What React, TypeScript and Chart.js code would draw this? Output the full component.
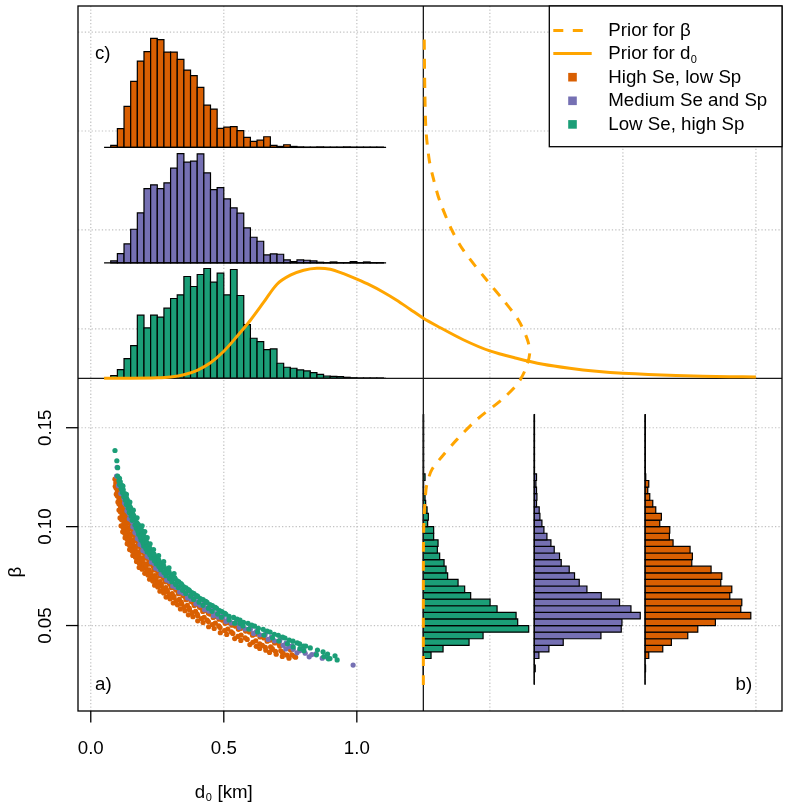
import React, { useEffect, useRef } from "react";
import { Chart, registerables } from "chart.js";

Chart.register(...registerables);

const FONT = '"Liberation Sans", Arial, Helvetica, sans-serif';
const FS = 18.7;
const FS_SUB = 11;

// ---- axes -------------------------------------------------------------
const D0_MIN = -0.048;
const D0_MAX = 2.598;
const BETA_MIN = 0.0068;
const BETA_MAX = 0.3632;
const GRID_D0 = [0, 0.5, 1, 1.5, 2, 2.5];
const GRID_BETA = [0.05, 0.1, 0.15, 0.2, 0.25, 0.3, 0.35];
const D0_TICKS = [0, 0.5, 1];
const D0_TICK_LABELS = ["0.0", "0.5", "1.0"];
const BETA_TICKS = [0.05, 0.1, 0.15];
const BETA_TICK_LABELS = ["0.05", "0.10", "0.15"];
const D0_TITLE_AT = 0.5;
const BETA_TITLE_AT = 0.077;

// panel split lines
const SPLIT_D0 = 1.25;
const SPLIT_BETA = 0.175;

// ---- series -----------------------------------------------------------
const SERIES_NAMES = ["High Se, low Sp", "Medium Se and Sp", "Low Se, high Sp"];
const SERIES_COLORS = ["#D95F02", "#7570B3", "#1B9E77"];
const PRIOR_COLOR = "#FFA500";

// ---- panel c: d0 histograms (relative frequency), bins of 0.025 km ----
const D0_BIN_START = 0.075;
const D0_BIN_WIDTH = 0.025;
const D0_HIST_RANGE = [0.05, 1.11];
const D0_HIST_HIGH = [
  2, 18.7, 41, 66, 86.3, 95.7, 109, 107.7, 95.3, 95.3, 88, 77.3, 71.7, 60, 42.3, 38.3, 19, 20.3,
  20.7, 16.7, 10, 6, 7.3, 10.7, 2, 1, 2.7, 1, 0.5, 0.3, 0.3, 0.5, 0.3, 0.3, 0.3, 0.5, 0.3, 0.3,
  0.3, 0.3, 0.3,
];
const D0_HIST_MEDIUM = [
  2, 9.3, 19, 33.7, 50, 74.3, 78, 74.3, 80, 94.7, 109.3, 100.7, 101.7, 109, 90, 73.3, 75.3, 64,
  55, 49.7, 35, 25.7, 21.7, 8, 9, 8.7, 3, 1.3, 3, 2.7, 2, 0.7, 0.3, 1, 0.3, 0.3, 1.3, 0.3, 1,
  0.3, 0.3,
];
const D0_HIST_LOW = [
  2.7, 8.7, 19.7, 32.7, 63, 50.3, 63, 61, 70, 79.7, 83.3, 101.7, 91.7, 103.7, 109.7, 96, 105,
  83.3, 108.7, 82.7, 53.7, 40, 36.7, 28.7, 29.3, 15, 11, 10, 8.3, 7.3, 5.7, 4, 2.3, 2, 1.7, 1,
  0.5, 0.3, 0.3, 0.3, 0.3,
];
// β positions of the three stacked baselines (high, medium, low)
const D0_HIST_BASES = [0.2917, 0.2333, 0.175];

// ---- panel b: β histograms (relative frequency), bins of 1/300 ----
const BETA_BIN_START = 0.02;
const BETA_BIN_WIDTH = 1 / 300;
const BETA_HIST_RANGE = [0.0204, 0.1567];
const BETA_HIST_HIGH = [
  0, 0, 0.5, 0, 3.7, 17.7, 26.3, 42.7, 52.7, 70.3, 105.7, 95.7, 96.7, 84.7, 86.7, 75.7, 76.7, 66,
  46.7, 47.3, 45, 28, 24.3, 24.7, 14.7, 16.3, 10.7, 7.7, 4.7, 2.7, 3.7, 0.7, 0.3, 0.3, 0.3, 0.3,
  0.3, 0.3, 0.3, 0.3, 0.3,
];
const BETA_HIST_MEDIUM = [
  0, 0, 1, 0, 4.7, 14.7, 29, 66.7, 87, 87.7, 106, 96.7, 85.3, 67, 52.7, 45, 40.3, 35, 27, 25.3,
  20, 16.7, 12.7, 9.7, 7.7, 5.7, 5, 2.3, 2.7, 2.3, 1.7, 2.3, 0.3, 0.3, 0.3, 0.3, 0.3, 0.3, 0.3,
  0.3, 0.3,
];
const BETA_HIST_LOW = [
  0, 0, 0, 0, 7.7, 19.7, 45.7, 59.7, 105.3, 94.3, 92.7, 73.7, 66.7, 47.3, 41.3, 34.7, 24.3, 22.7,
  20.7, 16.3, 14, 14.7, 10.3, 10.3, 4.3, 5, 3.7, 2.3, 1.7, 0.3, 0.3, 1.7, 0.3, 0.3, 0.3, 0.3,
  0.3, 0.3, 0.3, 0.3, 0.3,
];
// d0 positions of the three vertical baselines (high, medium, low)
const BETA_HIST_BASES = [2.0833, 1.6667, 1.25];

// conversion of relative frequency to axis units in each marginal panel
const D0_PANEL_SCALE = 0.000506; // β units per frequency unit
const BETA_PANEL_SCALE = 0.00376; // d0 units per frequency unit

// ---- priors (relative density on the same scales) ----
const D0_PRIOR_X = [
  0.05, 0.15, 0.25, 0.3, 0.35, 0.4, 0.45, 0.5, 0.55, 0.6, 0.65, 0.7, 0.75, 0.8, 0.85, 0.9, 0.95,
  1.0, 1.05, 1.1, 1.15, 1.2, 1.25, 1.3, 1.4, 1.5, 1.6, 1.7, 1.8, 1.9, 2.0, 2.2, 2.4, 2.5,
];
const D0_PRIOR_DENS = [
  0, 0.05, 0.5, 1.3, 3.5, 8, 15.5, 27, 42, 58, 76, 94, 103, 108, 110, 109, 104.5, 99, 93, 86, 78,
  69, 60, 52.5, 38.5, 27.3, 20, 14, 10, 7, 5, 2.8, 1.6, 1.3,
];
const BETA_PRIOR_Y = [
  0.02, 0.06, 0.09, 0.1, 0.105, 0.11, 0.115, 0.12, 0.125, 0.129, 0.1355, 0.1441, 0.1542, 0.1643,
  0.1709, 0.1744, 0.1795, 0.1874, 0.1941, 0.2042, 0.2143, 0.2244, 0.2395, 0.2497, 0.2648, 0.2754,
  0.285, 0.3, 0.32, 0.35,
];
const BETA_PRIOR_DENS = [
  0, 0, 0.1, 0.4, 0.8, 1.3, 2, 3, 5.5, 8.7, 18.7, 33.7, 53.7, 78.7, 92, 97, 102, 106.3, 104.3,
  95.3, 80.3, 63.7, 40.3, 28.7, 16.3, 10.3, 6, 2.7, 1.5, 0.8,
];

// ---- panel a: joint posterior samples [d0, β] ----
const SAMPLES_HIGH: number[][] = [
  [0.091, 0.124], [0.098, 0.12], [0.102, 0.1192], [0.104, 0.116], [0.109, 0.1152],
  [0.111, 0.112], [0.117, 0.1112], [0.122, 0.1127], [0.117, 0.108], [0.124, 0.1072], [0.132, 0.1087],
  [0.123, 0.104], [0.132, 0.1032], [0.141, 0.1047],
  [0.13, 0.1], [0.141, 0.0992], [0.152, 0.1007], [0.16, 0.0996],
  [0.137, 0.097], [0.148, 0.0962], [0.16, 0.0977], [0.168, 0.0966],
  [0.146, 0.094], [0.157, 0.0932], [0.169, 0.0947], [0.177, 0.0936],
  [0.155, 0.091], [0.167, 0.0902], [0.179, 0.0917], [0.187, 0.0906],
  [0.165, 0.088], [0.177, 0.0872], [0.19, 0.0887], [0.199, 0.0876],
  [0.178, 0.085], [0.191, 0.0842], [0.205, 0.0857], [0.215, 0.0846],
  [0.193, 0.082], [0.207, 0.0812], [0.221, 0.0827], [0.232, 0.0816],
  [0.205, 0.079], [0.22, 0.0782], [0.236, 0.0797], [0.247, 0.0786],
  [0.226, 0.076], [0.241, 0.0752], [0.256, 0.0767], [0.268, 0.0756],
  [0.245, 0.073], [0.261, 0.0722], [0.277, 0.0737], [0.289, 0.0726],
  [0.265, 0.07], [0.282, 0.0692], [0.299, 0.0707], [0.312, 0.0696],
  [0.288, 0.067], [0.306, 0.0662], [0.325, 0.0677], [0.339, 0.0666],
  [0.313, 0.064], [0.333, 0.0632], [0.353, 0.0647], [0.367, 0.0636],
  [0.342, 0.061], [0.363, 0.0602], [0.384, 0.0617], [0.4, 0.0606],
  [0.371, 0.058], [0.394, 0.0572], [0.416, 0.0587], [0.433, 0.0576],
  [0.402, 0.055], [0.426, 0.0542], [0.449, 0.0557], [0.467, 0.0546],
  [0.442, 0.052], [0.468, 0.0512], [0.495, 0.0527], [0.515, 0.0516],
  [0.486, 0.049], [0.515, 0.0482], [0.544, 0.0497], [0.565, 0.0486],
  [0.534, 0.046], [0.565, 0.0452], [0.596, 0.0467], [0.62, 0.0456],
  [0.588, 0.043], [0.62, 0.0422], [0.651, 0.0437], [0.675, 0.0426],
  [0.645, 0.04], [0.676, 0.0392], [0.707, 0.0407],
  [0.682, 0.038], [0.714, 0.0372], [0.745, 0.0387],
  [0.722, 0.036], [0.756, 0.0352], [0.77, 0.034],
  [0.094, 0.122], [0.099, 0.1213],
  [0.1, 0.118], [0.106, 0.1173], [0.111, 0.1186],
  [0.106, 0.114], [0.111, 0.1133], [0.116, 0.1146], [0.121, 0.1137],
  [0.112, 0.11], [0.118, 0.1093], [0.124, 0.1106], [0.13, 0.1097],
  [0.118, 0.106], [0.125, 0.1053], [0.132, 0.1066], [0.139, 0.1057],
  [0.124, 0.1015], [0.133, 0.1008], [0.142, 0.1021], [0.151, 0.1012],
  [0.131, 0.0985], [0.14, 0.0978], [0.15, 0.0991], [0.16, 0.0982],
  [0.139, 0.0955], [0.148, 0.0948], [0.159, 0.0961], [0.169, 0.0952],
  [0.148, 0.0925], [0.157, 0.0918], [0.168, 0.0931], [0.178, 0.0922],
  [0.157, 0.0895], [0.167, 0.0888], [0.178, 0.0901], [0.189, 0.0892],
  [0.168, 0.0865], [0.179, 0.0858], [0.191, 0.0871], [0.203, 0.0862],
  [0.182, 0.0835], [0.194, 0.0828], [0.206, 0.0841], [0.218, 0.0832],
  [0.195, 0.0805], [0.208, 0.0798], [0.221, 0.0811], [0.234, 0.0802],
  [0.212, 0.0775], [0.225, 0.0768], [0.239, 0.0781], [0.252, 0.0772],
  [0.232, 0.0745], [0.245, 0.0738], [0.259, 0.0751], [0.273, 0.0742],
  [0.251, 0.0715], [0.265, 0.0708], [0.28, 0.0721], [0.295, 0.0712],
  [0.272, 0.0685], [0.287, 0.0678], [0.303, 0.0691], [0.319, 0.0682],
  [0.296, 0.0655], [0.312, 0.0648], [0.329, 0.0661], [0.346, 0.0652],
  [0.322, 0.0625], [0.34, 0.0618], [0.358, 0.0631], [0.377, 0.0622],
  [0.351, 0.0595], [0.37, 0.0588], [0.389, 0.0601], [0.409, 0.0592],
  [0.381, 0.0565], [0.4, 0.0558], [0.421, 0.0571], [0.442, 0.0562],
  [0.416, 0.0535], [0.437, 0.0528], [0.46, 0.0541], [0.482, 0.0532],
  [0.457, 0.0505], [0.481, 0.0498], [0.505, 0.0511], [0.53, 0.0502],
  [0.503, 0.0475], [0.528, 0.0468], [0.555, 0.0481], [0.582, 0.0472],
  [0.553, 0.0445], [0.58, 0.0438], [0.608, 0.0451], [0.636, 0.0442],
  [0.609, 0.0415], [0.635, 0.0408], [0.663, 0.0421], [0.691, 0.0412],
  [0.656, 0.039], [0.682, 0.0383], [0.71, 0.0396],
  [0.694, 0.037], [0.722, 0.0363], [0.751, 0.0376],
  [0.738, 0.035], [0.766, 0.0343],
  [0.092, 0.1204], [0.095, 0.1195], [0.096, 0.1164], [0.1, 0.1155],
  [0.102, 0.1124], [0.106, 0.1115], [0.106, 0.1084], [0.111, 0.1075],
  [0.11, 0.1044], [0.116, 0.1035], [0.114, 0.1004], [0.122, 0.0995],
  [0.12, 0.0974], [0.128, 0.0965], [0.129, 0.0944], [0.137, 0.0935],
  [0.137, 0.0914], [0.146, 0.0905], [0.146, 0.0884], [0.156, 0.0875],
  [0.158, 0.0854], [0.168, 0.0845], [0.172, 0.0824], [0.182, 0.0815],
  [0.182, 0.0794], [0.193, 0.0785], [0.203, 0.0764], [0.215, 0.0755],
  [0.221, 0.0734], [0.233, 0.0725], [0.24, 0.0704], [0.252, 0.0695],
  [0.26, 0.0674], [0.274, 0.0665], [0.283, 0.0644], [0.298, 0.0635],
  [0.31, 0.0614], [0.326, 0.0605], [0.337, 0.0584], [0.354, 0.0575],
  [0.367, 0.0554], [0.384, 0.0545], [0.402, 0.0524], [0.422, 0.0515],
  [0.443, 0.0494], [0.464, 0.0485], [0.487, 0.0464], [0.511, 0.0455],
  [0.541, 0.0434], [0.564, 0.0425], [0.598, 0.0404], [0.622, 0.0395],
  [0.635, 0.0384], [0.658, 0.0375], [0.672, 0.0364], [0.697, 0.0355],
  [0.72, 0.0344], [0.745, 0.0335],
];
const SAMPLES_MEDIUM: number[][] = [
  [0.099, 0.13], [0.097, 0.1255], [0.104, 0.1207], [0.113, 0.1167], [0.125, 0.1142],
  [0.136, 0.1102], [0.146, 0.1062],
  [0.157, 0.1022], [0.165, 0.1011], [0.167, 0.0992], [0.175, 0.0981],
  [0.175, 0.0962], [0.184, 0.0951], [0.185, 0.0932], [0.194, 0.0921],
  [0.196, 0.0902], [0.205, 0.0891], [0.209, 0.0872], [0.219, 0.0861],
  [0.226, 0.0842], [0.236, 0.0831], [0.243, 0.0812], [0.254, 0.0801],
  [0.261, 0.0782], [0.272, 0.0771], [0.282, 0.0752], [0.294, 0.0741],
  [0.304, 0.0722], [0.317, 0.0711], [0.329, 0.0692], [0.342, 0.0681],
  [0.357, 0.0662], [0.371, 0.0651], [0.388, 0.0632], [0.404, 0.0621],
  [0.422, 0.0602], [0.439, 0.0591], [0.455, 0.0572], [0.472, 0.0561],
  [0.497, 0.0542], [0.516, 0.0531], [0.547, 0.0512], [0.568, 0.0501],
  [0.6, 0.0482], [0.623, 0.0471], [0.655, 0.0452], [0.679, 0.0441],
  [0.71, 0.0422], [0.734, 0.0411], [0.733, 0.0382], [0.757, 0.0397],
  [0.775, 0.0362], [0.8, 0.0377], [0.821, 0.0342], [0.846, 0.0357],
  [0.87, 0.0335], [0.89, 0.0338], [0.986, 0.03],
  [0.127, 0.112], [0.131, 0.1113], [0.136, 0.1126],
  [0.136, 0.108], [0.141, 0.1073], [0.147, 0.1086],
  [0.145, 0.104], [0.152, 0.1033], [0.158, 0.1046],
  [0.158, 0.1], [0.166, 0.0993], [0.174, 0.1006],
  [0.166, 0.097], [0.174, 0.0963], [0.183, 0.0976],
  [0.175, 0.094], [0.183, 0.0933], [0.192, 0.0946],
  [0.185, 0.091], [0.193, 0.0903], [0.202, 0.0916],
  [0.196, 0.088], [0.205, 0.0873], [0.215, 0.0886],
  [0.212, 0.085], [0.222, 0.0843], [0.232, 0.0856],
  [0.228, 0.082], [0.239, 0.0813], [0.249, 0.0826],
  [0.244, 0.079], [0.255, 0.0783], [0.267, 0.0796],
  [0.264, 0.076], [0.275, 0.0753], [0.287, 0.0766],
  [0.285, 0.073], [0.297, 0.0723], [0.309, 0.0736],
  [0.308, 0.07], [0.32, 0.0693], [0.333, 0.0706],
  [0.334, 0.067], [0.348, 0.0663], [0.362, 0.0676],
  [0.363, 0.064], [0.377, 0.0633], [0.392, 0.0646],
  [0.395, 0.061], [0.411, 0.0603], [0.427, 0.0616],
  [0.428, 0.058], [0.444, 0.0573], [0.461, 0.0586],
  [0.461, 0.055], [0.479, 0.0543], [0.496, 0.0556],
  [0.508, 0.052], [0.528, 0.0513], [0.548, 0.0526],
  [0.558, 0.049], [0.58, 0.0483], [0.601, 0.0496],
  [0.612, 0.046], [0.635, 0.0453], [0.659, 0.0466],
  [0.667, 0.043], [0.691, 0.0423], [0.714, 0.0436],
  [0.723, 0.04], [0.746, 0.0393],
  [0.761, 0.038], [0.785, 0.0373],
  [0.806, 0.036], [0.831, 0.0353],
];
const SAMPLES_LOW: number[][] = [
  [0.091, 0.1385], [0.098, 0.1333], [0.101, 0.1298], [0.101, 0.1256],
  [0.106, 0.1232], [0.114, 0.1192], [0.118, 0.1207], [0.124, 0.1152], [0.128, 0.1167],
  [0.134, 0.1112], [0.139, 0.1127], [0.142, 0.1116],
  [0.145, 0.1072], [0.15, 0.1087], [0.154, 0.1076],
  [0.156, 0.1032], [0.163, 0.1047], [0.167, 0.1036],
  [0.171, 0.0992], [0.18, 0.1007], [0.185, 0.0996],
  [0.18, 0.0962], [0.188, 0.0977], [0.194, 0.0966],
  [0.189, 0.0932], [0.197, 0.0947], [0.203, 0.0936],
  [0.199, 0.0902], [0.208, 0.0917], [0.214, 0.0906],
  [0.212, 0.0872], [0.221, 0.0887], [0.227, 0.0876],
  [0.228, 0.0842], [0.238, 0.0857], [0.245, 0.0846],
  [0.246, 0.0812], [0.256, 0.0827], [0.263, 0.0816],
  [0.263, 0.0782], [0.274, 0.0797], [0.282, 0.0786],
  [0.283, 0.0752], [0.294, 0.0767], [0.302, 0.0756],
  [0.305, 0.0722], [0.317, 0.0737], [0.325, 0.0726],
  [0.329, 0.0692], [0.342, 0.0707], [0.35, 0.0696],
  [0.357, 0.0662], [0.371, 0.0677], [0.38, 0.0666],
  [0.387, 0.0632], [0.402, 0.0647], [0.412, 0.0636],
  [0.422, 0.0602], [0.437, 0.0617], [0.448, 0.0606],
  [0.456, 0.0572], [0.473, 0.0587], [0.484, 0.0576],
  [0.491, 0.0542], [0.508, 0.0557], [0.52, 0.0546],
  [0.541, 0.0512], [0.561, 0.0527], [0.574, 0.0516],
  [0.594, 0.0482], [0.616, 0.0497], [0.63, 0.0486],
  [0.651, 0.0452], [0.674, 0.0467], [0.69, 0.0456],
  [0.707, 0.0422], [0.73, 0.0437], [0.746, 0.0426],
  [0.761, 0.0392], [0.785, 0.0407], [0.8, 0.0396],
  [0.801, 0.0372], [0.825, 0.0387],
  [0.848, 0.0352], [0.873, 0.0367], [0.89, 0.0356],
  [0.893, 0.0332], [0.918, 0.0347], [0.899, 0.0333], [0.926, 0.0326],
  [0.561, 0.051], [0.342, 0.0704],
  [0.108, 0.1213], [0.111, 0.1226], [0.119, 0.1173], [0.122, 0.1186],
  [0.13, 0.1133], [0.134, 0.1146], [0.137, 0.1137],
  [0.141, 0.1093], [0.145, 0.1106], [0.149, 0.1097],
  [0.152, 0.1053], [0.157, 0.1066], [0.161, 0.1057],
  [0.166, 0.1008], [0.173, 0.1021], [0.178, 0.1012],
  [0.177, 0.0978], [0.185, 0.0991], [0.191, 0.0982],
  [0.186, 0.0948], [0.194, 0.0961], [0.2, 0.0952],
  [0.196, 0.0918], [0.204, 0.0931], [0.21, 0.0922],
  [0.207, 0.0888], [0.216, 0.0901], [0.222, 0.0892],
  [0.222, 0.0858], [0.231, 0.0871], [0.237, 0.0862],
  [0.239, 0.0828], [0.249, 0.0841], [0.255, 0.0832],
  [0.256, 0.0798], [0.267, 0.0811], [0.274, 0.0802],
  [0.275, 0.0768], [0.286, 0.0781], [0.294, 0.0772],
  [0.296, 0.0738], [0.307, 0.0751], [0.315, 0.0742],
  [0.319, 0.0708], [0.331, 0.0721], [0.339, 0.0712],
  [0.345, 0.0678], [0.358, 0.0691], [0.367, 0.0682],
  [0.375, 0.0648], [0.388, 0.0661], [0.398, 0.0652],
  [0.407, 0.0618], [0.422, 0.0631], [0.432, 0.0622],
  [0.442, 0.0588], [0.457, 0.0601], [0.468, 0.0592],
  [0.477, 0.0558], [0.493, 0.0571], [0.504, 0.0562],
  [0.52, 0.0528], [0.537, 0.0541], [0.55, 0.0532],
  [0.572, 0.0498], [0.591, 0.0511], [0.605, 0.0502],
  [0.627, 0.0468], [0.648, 0.0481], [0.663, 0.0472],
  [0.683, 0.0438], [0.705, 0.0451], [0.721, 0.0442],
  [0.739, 0.0408], [0.76, 0.0421], [0.776, 0.0412],
  [0.786, 0.0383], [0.808, 0.0396],
  [0.852, 0.0376], [0.876, 0.0343],
  [0.108, 0.1244], [0.121, 0.1205], [0.134, 0.1163], [0.147, 0.1124], [0.16, 0.1083],
  [0.174, 0.1045], [0.193, 0.1004], [0.203, 0.0975], [0.212, 0.0944], [0.223, 0.0913],
  [0.236, 0.0884], [0.255, 0.0853], [0.274, 0.0823], [0.294, 0.0792], [0.313, 0.0763],
];

const D0_HISTS = [D0_HIST_HIGH, D0_HIST_MEDIUM, D0_HIST_LOW];
const BETA_HISTS = [BETA_HIST_HIGH, BETA_HIST_MEDIUM, BETA_HIST_LOW];
const SAMPLES = [SAMPLES_HIGH, SAMPLES_MEDIUM, SAMPLES_LOW];

// ---- drawing helpers ---------------------------------------------------
function seg(ctx: CanvasRenderingContext2D, x0: number, y0: number, x1: number, y1: number) {
  ctx.beginPath();
  ctx.moveTo(x0, y0);
  ctx.lineTo(x1, y1);
  ctx.stroke();
}

// text followed by "d" with subscript 0 and an optional suffix
function drawD0Text(
  ctx: CanvasRenderingContext2D,
  prefix: string,
  suffix: string,
  x: number,
  y: number,
  center: boolean
) {
  const main = `${FS}px ${FONT}`;
  const sub = `${FS_SUB}px ${FONT}`;
  ctx.font = main;
  const wp = ctx.measureText(prefix + "d").width;
  ctx.font = sub;
  const w0 = ctx.measureText("0").width + 1;
  ctx.font = main;
  const ws = ctx.measureText(suffix).width;
  const sx = center ? x - (wp + w0 + ws) / 2 : x;
  ctx.textAlign = "left";
  ctx.textBaseline = "alphabetic";
  ctx.fillText(prefix + "d", sx, y);
  ctx.font = sub;
  ctx.fillText("0", sx + wp + 0.5, y + 3.5);
  ctx.font = main;
  if (suffix) ctx.fillText(suffix, sx + wp + w0, y);
}

const panelsPlugin = {
  id: "panels",
  beforeDatasetsDraw(chart: any) {
    const { ctx, chartArea: a, scales } = chart;
    const xs = (v: number) => scales.x.getPixelForValue(v);
    const ys = (v: number) => scales.y.getPixelForValue(v);
    ctx.save();
    ctx.beginPath();
    ctx.rect(a.left, a.top, a.right - a.left, a.bottom - a.top);
    ctx.clip();

    // dotted grid
    ctx.strokeStyle = "#C2C2C2";
    ctx.lineWidth = 1.2;
    ctx.setLineDash([1.3, 2.1]);
    GRID_D0.forEach((v) => seg(ctx, xs(v), a.top, xs(v), a.bottom));
    GRID_BETA.forEach((v) => seg(ctx, a.left, ys(v), a.right, ys(v)));
    ctx.setLineDash([]);

    // panel c: stacked d0 histograms
    D0_HISTS.forEach((vals, s) => {
      const base = D0_HIST_BASES[s];
      ctx.fillStyle = SERIES_COLORS[s];
      ctx.strokeStyle = "#000";
      ctx.lineWidth = 1.2;
      vals.forEach((v, i) => {
        const x0 = xs(D0_BIN_START + i * D0_BIN_WIDTH);
        const x1 = xs(D0_BIN_START + (i + 1) * D0_BIN_WIDTH);
        const y0 = ys(base);
        const y1 = ys(base + v * D0_PANEL_SCALE);
        ctx.beginPath();
        ctx.rect(x0, y1, x1 - x0, y0 - y1);
        ctx.fill();
        ctx.stroke();
      });
      seg(ctx, xs(D0_HIST_RANGE[0]), ys(base), xs(D0_HIST_RANGE[1]), ys(base));
    });

    // panel b: side-by-side β histograms
    BETA_HISTS.forEach((vals, s) => {
      const base = BETA_HIST_BASES[s];
      ctx.fillStyle = SERIES_COLORS[s];
      ctx.strokeStyle = "#000";
      ctx.lineWidth = 1.2;
      vals.forEach((v, i) => {
        const yb = ys(BETA_BIN_START + i * BETA_BIN_WIDTH);
        const yt = ys(BETA_BIN_START + (i + 1) * BETA_BIN_WIDTH);
        const x0 = xs(base);
        const x1 = xs(base + v * BETA_PANEL_SCALE);
        ctx.beginPath();
        ctx.rect(x0, yt, x1 - x0, yb - yt);
        ctx.fill();
        ctx.stroke();
      });
      seg(ctx, xs(base), ys(BETA_HIST_RANGE[0]), xs(base), ys(BETA_HIST_RANGE[1]));
    });

    // panel dividers
    ctx.strokeStyle = "#1A1A1A";
    ctx.lineWidth = 1.3;
    seg(ctx, xs(SPLIT_D0), a.top, xs(SPLIT_D0), a.bottom);
    seg(ctx, a.left, ys(SPLIT_BETA), a.right, ys(SPLIT_BETA));
    ctx.restore();
  },
  afterDatasetsDraw(chart: any) {
    const { ctx, chartArea: a, scales } = chart;
    const xs = (v: number) => scales.x.getPixelForValue(v);
    const ys = (v: number) => scales.y.getPixelForValue(v);
    ctx.save();

    // frame and ticks
    ctx.strokeStyle = "#000";
    ctx.lineWidth = 1.3;
    ctx.strokeRect(a.left, a.top, a.right - a.left, a.bottom - a.top);
    D0_TICKS.forEach((v) => seg(ctx, xs(v), a.bottom, xs(v), a.bottom + 11.5));
    BETA_TICKS.forEach((v) => seg(ctx, a.left, ys(v), a.left - 12, ys(v)));

    ctx.fillStyle = "#000";
    ctx.font = `${FS}px ${FONT}`;
    ctx.textAlign = "center";
    ctx.textBaseline = "alphabetic";
    D0_TICKS.forEach((v, i) => ctx.fillText(D0_TICK_LABELS[i], xs(v), a.bottom + 43));
    BETA_TICKS.forEach((v, i) => {
      ctx.save();
      ctx.translate(a.left - 27, ys(v));
      ctx.rotate(-Math.PI / 2);
      ctx.fillText(BETA_TICK_LABELS[i], 0, 0);
      ctx.restore();
    });

    // axis titles
    drawD0Text(ctx, "", " [km]", xs(D0_TITLE_AT), a.bottom + 86.5, true);
    ctx.save();
    ctx.font = `${FS}px ${FONT}`;
    ctx.textAlign = "center";
    ctx.translate(21, ys(BETA_TITLE_AT));
    ctx.rotate(-Math.PI / 2);
    ctx.fillText("β", 0, 0);
    ctx.restore();

    // panel letters
    ctx.font = `${FS}px ${FONT}`;
    ctx.textAlign = "left";
    ctx.fillText("a)", a.left + 17, a.bottom - 21);
    ctx.fillText("b)", a.right - 46.5, a.bottom - 21);
    ctx.fillText("c)", a.left + 17, a.top + 52.5);

    // legend
    const lw = 232.7;
    const lh = 140.7;
    const lx = a.right - lw;
    const ly = a.top;
    ctx.fillStyle = "#FFF";
    ctx.fillRect(lx, ly, lw, lh);
    ctx.strokeStyle = "#000";
    ctx.lineWidth = 1.3;
    ctx.strokeRect(lx, ly, lw, lh);
    const rowBase = (i: number) => ly + 29.5 + 23.6 * i;
    const symX0 = lx + 4;
    const symX1 = lx + 42.4;
    const textX = lx + 59;
    ctx.strokeStyle = PRIOR_COLOR;
    ctx.lineWidth = 3;
    ctx.lineCap = "butt";
    ctx.setLineDash([10, 9.5]);
    seg(ctx, symX0, rowBase(0) - 5, symX1, rowBase(0) - 5);
    ctx.setLineDash([]);
    seg(ctx, symX0, rowBase(1) - 5.5, symX1, rowBase(1) - 5.5);
    ctx.fillStyle = "#000";
    ctx.font = `${FS}px ${FONT}`;
    ctx.textAlign = "left";
    ctx.fillText("Prior for β", textX, rowBase(0));
    drawD0Text(ctx, "Prior for ", "", textX, rowBase(1), false);
    SERIES_NAMES.forEach((name, s) => {
      const yb = rowBase(2 + s);
      ctx.fillStyle = SERIES_COLORS[s];
      const cx = (symX0 + symX1) / 2;
      ctx.fillRect(cx - 4.3, yb - 5.5 - 4.3, 8.6, 8.6);
      ctx.fillStyle = "#000";
      ctx.font = `${FS}px ${FONT}`;
      ctx.fillText(name, textX, yb);
    });
    ctx.restore();
  },
};

export default function App() {
  const ref = useRef<HTMLCanvasElement>(null);

  useEffect(() => {
    const scatterSets = SAMPLES.map((pts, s) => ({
      type: "scatter" as const,
      label: SERIES_NAMES[s],
      data: pts.map(([x, y]) => ({ x, y })),
      backgroundColor: SERIES_COLORS[s],
      borderWidth: 0,
      pointRadius: 2.6,
      pointHoverRadius: 2.6,
      showLine: false,
      order: 5 - s,
    }));
    const betaPrior = {
      type: "scatter" as const,
      label: "Prior for β",
      data: BETA_PRIOR_Y.map((b, i) => ({ x: SPLIT_D0 + BETA_PRIOR_DENS[i] * BETA_PANEL_SCALE, y: b })),
      showLine: true,
      borderColor: PRIOR_COLOR,
      borderWidth: 3,
      borderDash: [10, 9],
      borderCapStyle: "butt",
      pointRadius: 0,
      tension: 0.3,
      fill: false,
      order: 2,
    };
    const d0Prior = {
      type: "scatter" as const,
      label: "Prior for d0",
      data: D0_PRIOR_X.map((d, i) => ({ x: d, y: SPLIT_BETA + D0_PRIOR_DENS[i] * D0_PANEL_SCALE })),
      showLine: true,
      borderColor: PRIOR_COLOR,
      borderWidth: 3,
      pointRadius: 0,
      tension: 0.3,
      fill: false,
      order: 1,
    };

    const chart = new Chart(ref.current as HTMLCanvasElement, {
      type: "scatter",
      data: { datasets: [...scatterSets, betaPrior, d0Prior] as any },
      options: {
        animation: false,
        responsive: false,
        devicePixelRatio: 1,
        events: [],
        layout: { padding: { left: 78, right: 8, top: 6, bottom: 97 } },
        scales: {
          x: { type: "linear", display: false, min: D0_MIN, max: D0_MAX },
          y: { type: "linear", display: false, min: BETA_MIN, max: BETA_MAX },
        },
        plugins: { legend: { display: false }, tooltip: { enabled: false } },
      },
      plugins: [panelsPlugin],
    });
    return () => chart.destroy();
  }, []);

  return (
    <canvas
      ref={ref}
      width={790}
      height={808}
      style={{ position: "fixed", left: 0, top: 0, width: 790, height: 808, background: "#fff" }}
    />
  );
}
